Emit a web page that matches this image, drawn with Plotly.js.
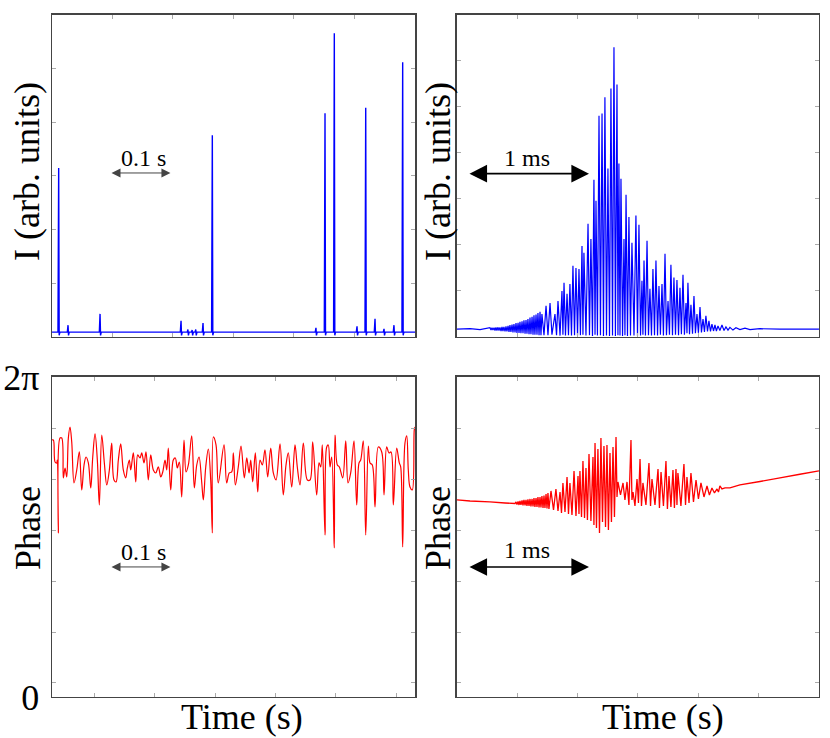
<!DOCTYPE html>
<html>
<head>
<meta charset="utf-8">
<script src="https://cdn.plot.ly/plotly-3.0.1.min.js"></script>
<style>
  html, body { margin: 0; padding: 0; background: #fff; }
  #chart { width: 830px; height: 738px; }
</style>
</head>
<body>
<div id="chart"></div>
<script>
// ---- data ----

// top left: intensity spikes over 0.6 s (arb. units)
var spikeT = [0.0110, 0.0265, 0.0795, 0.2136, 0.2250, 0.2320, 0.2380, 0.2500, 0.2654,
              0.4370, 0.4520, 0.4674, 0.5050, 0.5194, 0.5348, 0.5497, 0.5662, 0.5806];
var spikeH = [3.15, 0.22, 0.43, 0.30, 0.14, 0.13, 0.14, 0.26, 3.76,
              0.17, 4.17, 5.66, 0.20, 4.27, 0.34, 0.15, 0.22, 5.12];
var baseI = 0.09;   // baseline level
var dipI = 0.03;    // small undershoot right after each spike
var tEnd = 0.601;

// top right: one burst, time in ms
var trT = [
  0.000, 0.108, 0.191,
  0.273, 0.282, 0.290, 0.298, 0.307, 0.315, 0.323, 0.331, 0.340, 0.348,
  0.356, 0.365, 0.373, 0.381, 0.389, 0.398, 0.406, 0.414, 0.423, 0.431,
  0.439, 0.447, 0.456, 0.464, 0.472, 0.481, 0.489, 0.497, 0.506, 0.514,
  0.522, 0.530, 0.539, 0.547, 0.555, 0.564, 0.572, 0.580, 0.588, 0.597,
  0.605, 0.613, 0.622, 0.630, 0.638, 0.646, 0.655, 0.663, 0.671, 0.680,
  0.688, 0.696,
  0.704, 0.721, 0.738, 0.754, 0.771, 0.787, 0.812, 0.825, 0.837, 0.854,
  0.870, 0.878, 0.887, 0.899, 0.912, 0.924, 0.936, 0.949, 0.961, 0.974,
  0.986, 0.999, 1.011, 1.023, 1.036, 1.044, 1.052, 1.069, 1.086, 1.098,
  1.110, 1.123, 1.135, 1.144, 1.152, 1.164, 1.177, 1.189, 1.202, 1.214,
  1.226, 1.239, 1.251, 1.264, 1.276, 1.289, 1.301, 1.313, 1.326, 1.334,
  1.342, 1.351, 1.359, 1.372, 1.384, 1.392, 1.401, 1.413, 1.425, 1.438,
  1.450, 1.467, 1.483, 1.496, 1.508, 1.521, 1.533, 1.541, 1.550, 1.562,
  1.575, 1.587, 1.599, 1.612, 1.624, 1.637, 1.649, 1.662, 1.674, 1.686,
  1.699, 1.711, 1.724, 1.736, 1.749, 1.761, 1.773, 1.786, 1.798, 1.811,
  1.823, 1.836, 1.848, 1.860, 1.873, 1.885, 1.898, 1.906, 1.914, 1.927,
  1.939, 1.952, 1.964, 1.976, 1.989, 2.001, 2.014, 2.026, 2.039, 2.051,
  2.063, 2.076, 2.088, 2.101, 2.113, 2.126, 2.138, 2.150, 2.163, 2.179,
  2.196, 2.213, 2.229, 2.246, 2.262, 2.287, 2.312, 2.345, 2.387, 2.428,
  2.511, 2.677, 2.842, 3.000
];
var trI = [
  0.17, 0.18, 0.16,
  0.20, 0.15, 0.20, 0.15, 0.20, 0.14, 0.21, 0.14, 0.21, 0.14,
  0.21, 0.13, 0.22, 0.13, 0.22, 0.12, 0.23, 0.12, 0.24, 0.11,
  0.26, 0.11, 0.27, 0.10, 0.28, 0.10, 0.30, 0.09, 0.31, 0.09,
  0.33, 0.08, 0.34, 0.08, 0.36, 0.07, 0.37, 0.07, 0.39, 0.06,
  0.42, 0.06, 0.44, 0.05, 0.47, 0.05, 0.49, 0.05, 0.52, 0.04,
  0.55, 0.04,
  0.50, 0.04, 0.68, 0.04, 0.74, 0.05, 0.50, 0.04, 0.78, 0.03,
  1.00, 0.05, 1.18, 0.03, 0.94, 0.04, 1.15, 0.03, 1.55, 0.04,
  1.50, 0.03, 1.48, 0.04, 1.98, 0.05, 1.83, 0.03, 2.46, 0.04,
  2.13, 0.02, 3.42, 0.05, 2.96, 0.03, 4.81, 0.04, 4.86, 0.02,
  5.21, 0.03, 3.66, 0.02, 5.40, 0.03, 6.30, 0.02, 5.49, 0.04,
  3.77, 0.03, 3.44, 0.02, 2.13, 0.04, 3.09, 0.02, 2.61, 0.03,
  2.05, 0.03, 2.64, 0.02, 2.44, 0.03, 1.22, 0.05, 1.66, 0.03,
  2.09, 0.04, 1.05, 0.03, 1.48, 0.04, 1.66, 0.03, 1.11, 0.05,
  1.15, 0.03, 1.81, 0.04, 0.78, 0.05, 1.57, 0.04, 1.29, 0.05,
  1.24, 0.04, 1.07, 0.06, 1.35, 0.05, 0.74, 0.08, 1.18, 0.06,
  0.70, 0.07, 0.89, 0.08, 0.50, 0.09, 0.65, 0.10, 0.39, 0.11,
  0.46, 0.12, 0.35, 0.12, 0.28, 0.13, 0.26, 0.13, 0.24, 0.14,
  0.26, 0.14, 0.22, 0.15, 0.21, 0.15, 0.20, 0.16, 0.19, 0.16,
  0.18, 0.17, 0.17, 0.17
];

// bottom left: phase over 0.6 s (rad)
var blT = [
  0.0000, 0.0022, 0.0050, 0.0078, 0.0088, 0.0104, 0.0132, 0.0161, 0.0187, 0.0215,
  0.0243, 0.0270, 0.0298, 0.0326, 0.0364, 0.0409, 0.0452, 0.0492, 0.0530, 0.0563,
  0.0601, 0.0641, 0.0674, 0.0712, 0.0750, 0.0783, 0.0823, 0.0866, 0.0906, 0.0949,
  0.0988, 0.1026, 0.1060, 0.1098, 0.1137, 0.1180, 0.1220, 0.1247, 0.1280, 0.1303,
  0.1346, 0.1386, 0.1419, 0.1457, 0.1485, 0.1523, 0.1556, 0.1594, 0.1634, 0.1677,
  0.1717, 0.1760, 0.1800, 0.1833, 0.1871, 0.1899, 0.1925, 0.1965, 0.2008, 0.2041,
  0.2075, 0.2108, 0.2147, 0.2185, 0.2219, 0.2257, 0.2313, 0.2356, 0.2396, 0.2434,
  0.2478, 0.2505, 0.2545, 0.2588, 0.2627, 0.2654, 0.2671, 0.2715, 0.2753, 0.2848,
  0.2892, 0.2935, 0.2975, 0.3002, 0.3035, 0.3084, 0.3129, 0.3184, 0.3224, 0.3262,
  0.3290, 0.3323, 0.3366, 0.3406, 0.3444, 0.3482, 0.3526, 0.3571, 0.3621, 0.3664,
  0.3709, 0.3775, 0.3829, 0.3874, 0.3912, 0.3969, 0.4023, 0.4061, 0.4106, 0.4161,
  0.4227, 0.4272, 0.4316, 0.4382, 0.4421, 0.4449, 0.4475, 0.4520, 0.4548, 0.4574,
  0.4603, 0.4631, 0.4674, 0.4685, 0.4724, 0.4757, 0.4813, 0.4863, 0.4901, 0.4945,
  0.5000, 0.5045, 0.5083, 0.5111, 0.5154, 0.5194, 0.5237, 0.5265, 0.5303, 0.5348,
  0.5402, 0.5459, 0.5497, 0.5541, 0.5579, 0.5613, 0.5651, 0.5707, 0.5750, 0.5773,
  0.5806, 0.5844, 0.5873, 0.5899, 0.5927, 0.5965, 0.5998, 0.6010
];
var blP = [
  5.046, 5.046, 4.614, 4.595, 4.653, 3.220, 5.085, 5.085, 4.300, 4.496,
  4.320, 5.085, 5.301, 5.007, 4.202, 4.457, 4.811, 4.064, 4.555, 4.712,
  4.595, 4.104, 4.712, 5.164, 4.653, 3.770, 5.144, 4.595, 4.163, 4.457,
  4.987, 4.261, 4.222, 4.653, 4.968, 4.457, 4.300, 4.496, 4.653, 4.457,
  4.791, 4.222, 4.752, 4.693, 4.791, 4.595, 4.811, 4.261, 4.752, 4.457,
  4.398, 4.516, 4.320, 4.418, 4.653, 4.457, 4.889, 4.064, 4.653, 4.693,
  4.496, 4.614, 3.927, 5.046, 4.418, 4.555, 5.125, 4.104, 4.555, 4.712,
  4.222, 3.868, 4.516, 4.869, 4.261, 3.220, 5.105, 4.948, 4.202, 4.948,
  4.202, 4.398, 4.418, 4.791, 4.163, 4.516, 4.928, 4.300, 4.693, 4.398,
  4.653, 4.222, 4.791, 4.025, 4.653, 4.555, 4.850, 4.320, 4.889, 4.398,
  4.261, 4.968, 3.966, 4.555, 4.791, 4.123, 4.948, 4.516, 4.163, 4.987,
  4.261, 4.261, 5.007, 3.966, 4.595, 4.516, 4.948, 3.181, 4.909, 4.948,
  4.516, 4.712, 2.926, 5.144, 4.555, 4.516, 4.300, 5.027, 4.202, 4.398,
  5.027, 3.770, 4.595, 4.653, 5.027, 3.181, 4.928, 4.595, 4.555, 3.731,
  4.909, 4.811, 3.966, 4.909, 4.791, 4.811, 3.770, 4.889, 4.595, 4.516,
  2.945, 4.987, 5.125, 4.457, 4.123, 4.064, 5.243, 5.301
];

// bottom right: phase during the burst, time in ms
var brT = [
  0.000, 0.108, 0.273, 0.398, 0.481,
  0.489, 0.497, 0.506, 0.514, 0.522, 0.530, 0.539, 0.547, 0.555, 0.564,
  0.572, 0.580, 0.588, 0.597, 0.605, 0.613, 0.622, 0.630, 0.638, 0.646,
  0.655, 0.663, 0.671, 0.680, 0.688, 0.696, 0.704, 0.713, 0.721, 0.729,
  0.738, 0.746, 0.754, 0.762,
  0.779, 0.800, 0.820, 0.837, 0.854, 0.866, 0.878, 0.895, 0.912,
  0.924, 0.936, 0.953, 0.970, 0.986, 1.003, 1.011, 1.019, 1.032, 1.044,
  1.057, 1.069, 1.081, 1.094, 1.110, 1.127, 1.135, 1.144, 1.156, 1.168,
  1.181, 1.193, 1.206, 1.218, 1.231, 1.243, 1.255, 1.268, 1.280, 1.293,
  1.305, 1.318, 1.326, 1.334, 1.355, 1.376, 1.392, 1.409, 1.425, 1.442,
  1.450, 1.459, 1.475, 1.492, 1.504, 1.517, 1.529, 1.541, 1.566, 1.591,
  1.604, 1.616, 1.641, 1.666, 1.678, 1.691, 1.711, 1.732, 1.744, 1.757,
  1.773, 1.790, 1.802, 1.815, 1.823, 1.831, 1.856, 1.881, 1.894, 1.906,
  1.923, 1.939, 1.960, 1.981, 2.001, 2.022, 2.047, 2.072, 2.092, 2.113,
  2.134, 2.155, 2.167, 2.179, 2.196, 2.221, 2.262, 2.345, 2.511, 2.677,
  2.842, 3.000
];
var brP = [
  3.868, 3.848, 3.829, 3.809, 3.799,
  3.829, 3.780, 3.839, 3.770, 3.848, 3.770, 3.858, 3.760, 3.868, 3.760,
  3.868, 3.750, 3.878, 3.750, 3.888, 3.740, 3.888, 3.740, 3.907, 3.731,
  3.907, 3.731, 3.927, 3.721, 3.927, 3.721, 3.947, 3.711, 3.957, 3.711,
  3.986, 3.701, 4.006, 3.691,
  4.045, 3.672, 4.084, 3.652, 4.025, 3.613, 4.202, 3.632, 4.320,
  3.593, 4.202, 3.574, 4.438, 3.554, 4.339, 3.593, 4.438, 3.534, 4.634,
  3.515, 4.496, 3.475, 4.771, 3.456, 4.712, 3.377, 4.987, 3.318, 4.869,
  3.220, 5.085, 3.436, 4.928, 3.338, 4.948, 3.279, 4.791, 3.436, 4.909,
  3.534, 5.105, 3.927, 4.222, 3.966, 4.202, 3.868, 4.222, 3.770, 5.046,
  3.868, 4.025, 3.750, 4.280, 3.809, 4.673, 3.750, 4.202, 3.770, 4.595,
  3.750, 4.280, 3.770, 4.477, 3.711, 4.418, 3.750, 4.634, 3.691, 4.339,
  3.731, 4.457, 3.711, 4.477, 3.770, 4.398, 3.750, 4.575, 3.770, 4.320,
  3.809, 4.398, 3.829, 4.261, 3.888, 4.202, 3.927, 4.143, 3.966, 4.104,
  4.006, 4.084, 4.025, 4.143, 4.084, 4.104, 4.104, 4.163, 4.231, 4.300,
  4.373, 4.438
];

// phase axis: inner tick positions and the two labelled ends
var phaseTicks = [0, 0.275, 1.275, 2.275, 3.275, 4.275, 5.275, 6.2832];
var phaseLabels = ['0', '', '', '', '', '', '', '2\u03c0'];

// ---- build the spike line for the top left panel ----
var tlT = [0], tlI = [baseI];
spikeT.forEach(function (t, i) {
  tlT.push(t - 0.0012, t, t + 0.0008, t + 0.002);
  tlI.push(baseI, spikeH[i], dipI, baseI);
});
tlT.push(tEnd);
tlI.push(baseI);

var serif = 'Liberation Serif';

var traces = [
  { x: tlT, y: tlI, xaxis: 'x', yaxis: 'y', mode: 'lines',
    line: { color: '#0000ff', width: 1.4, simplify: false } },
  { x: trT, y: trI, xaxis: 'x2', yaxis: 'y2', mode: 'lines',
    line: { color: '#0000ff', width: 1.2, simplify: false } },
  { x: blT, y: blP, xaxis: 'x3', yaxis: 'y3', mode: 'lines',
    line: { color: '#ff0000', width: 1.2, shape: 'spline', smoothing: 1, simplify: false } },
  { x: brT, y: brP, xaxis: 'x4', yaxis: 'y4', mode: 'lines',
    line: { color: '#ff0000', width: 1.3, simplify: false } }
];

// shared frame style for every axis
function frame(extra) {
  var ax = {
    showline: true, linecolor: '#444', linewidth: 1.5, mirror: 'ticks',
    ticks: 'inside', ticklen: 4, tickwidth: 1, tickcolor: '#aaa',
    showgrid: false, zeroline: false, showticklabels: false, fixedrange: true
  };
  for (var k in extra) ax[k] = extra[k];
  return ax;
}

var leftX = [0.0627, 0.5], rightX = [0.5506, 0.9867];
var topY = [0.5434, 0.9797], botY = [0.0556, 0.4892];

var phaseAxis = {
  range: [0, 6.2832], tickmode: 'array', tickvals: phaseTicks
};

var big = { family: serif, size: 36, color: '#000' };
var small = { family: serif, size: 24, color: '#000' };

var layout = {
  width: 830, height: 738,
  margin: { l: 0, r: 0, t: 0, b: 0 },
  paper_bgcolor: '#fff', plot_bgcolor: '#fff',
  showlegend: false,
  font: { family: serif, color: '#000' },
  xaxis: frame({ domain: leftX, range: [0, tEnd], anchor: 'y', tick0: 0, dtick: 0.1 }),
  yaxis: frame({ domain: topY, range: [0, 6], anchor: 'x', dtick: 1 }),
  xaxis2: frame({ domain: rightX, range: [0, 3], anchor: 'y2', tick0: 0, dtick: 0.5 }),
  yaxis2: frame({ domain: topY, range: [0, 7], anchor: 'x2', dtick: 1 }),
  xaxis3: frame({ domain: leftX, range: [0, tEnd], anchor: 'y3', tick0: 0.07, dtick: 0.1 }),
  yaxis3: frame(Object.assign({ domain: botY, anchor: 'x3', showticklabels: true,
    ticktext: phaseLabels, tickfont: big, ticklabelstandoff: 4 }, phaseAxis)),
  xaxis4: frame({ domain: rightX, range: [0, 3], anchor: 'y4', tick0: 0.5, dtick: 0.5 }),
  yaxis4: frame(Object.assign({ domain: botY, anchor: 'x4' }, phaseAxis)),
  annotations: [
    // axis titles
    { xref: 'paper', yref: 'paper', x: 0.0325, y: 0.7683, text: 'I (arb. units)', textangle: -90,
      showarrow: false, xanchor: 'center', yanchor: 'middle', font: big },
    { xref: 'paper', yref: 'paper', x: 0.5277, y: 0.7683, text: 'I (arb. units)', textangle: -90,
      showarrow: false, xanchor: 'center', yanchor: 'middle', font: big },
    { xref: 'paper', yref: 'paper', x: 0.0337, y: 0.2846, text: 'Phase', textangle: -90,
      showarrow: false, xanchor: 'center', yanchor: 'middle', font: big },
    { xref: 'paper', yref: 'paper', x: 0.5277, y: 0.2846, text: 'Phase', textangle: -90,
      showarrow: false, xanchor: 'center', yanchor: 'middle', font: big },
    { xref: 'paper', yref: 'paper', x: 0.2916, y: 0.0285, text: 'Time (s)',
      showarrow: false, xanchor: 'center', yanchor: 'middle', font: big },
    { xref: 'paper', yref: 'paper', x: 0.7988, y: 0.0285, text: 'Time (s)',
      showarrow: false, xanchor: 'center', yanchor: 'middle', font: big },

    // scale bars: 0.1 s on the left, 1 ms on the right
    { xref: 'x', yref: 'y', axref: 'x', ayref: 'y', x: 0.196, y: 3.056, ax: 0.096, ay: 3.056,
      text: '', showarrow: true, arrowside: 'end+start', arrowhead: 2, startarrowhead: 2,
      arrowsize: 1.8, startarrowsize: 1.8, arrowwidth: 1, arrowcolor: '#444' },
    { xref: 'x', yref: 'y', x: 0.151, y: 3.335, text: '0.1 s', showarrow: false, font: small },
    { xref: 'x3', yref: 'y3', axref: 'x3', ayref: 'y3', x: 0.196, y: 2.553, ax: 0.096, ay: 2.553,
      text: '', showarrow: true, arrowside: 'end+start', arrowhead: 2, startarrowhead: 2,
      arrowsize: 1.8, startarrowsize: 1.8, arrowwidth: 1, arrowcolor: '#444' },
    { xref: 'x3', yref: 'y3', x: 0.151, y: 2.847, text: '0.1 s', showarrow: false, font: small },
    { xref: 'x2', yref: 'y2', axref: 'x2', ayref: 'y2', x: 1.094, y: 3.551, ax: 0.091, ay: 3.551,
      text: '', showarrow: true, arrowside: 'end+start', arrowhead: 2, startarrowhead: 2,
      arrowsize: 2.2, startarrowsize: 2.2, arrowwidth: 1.6, arrowcolor: '#000' },
    { xref: 'x2', yref: 'y2', x: 0.580, y: 3.90, text: '1 ms', showarrow: false, font: small },
    { xref: 'x4', yref: 'y4', axref: 'x4', ayref: 'y4', x: 1.094, y: 2.553, ax: 0.091, ay: 2.553,
      text: '', showarrow: true, arrowside: 'end+start', arrowhead: 2, startarrowhead: 2,
      arrowsize: 2.2, startarrowsize: 2.2, arrowwidth: 1.6, arrowcolor: '#000' },
    { xref: 'x4', yref: 'y4', x: 0.580, y: 2.886, text: '1 ms', showarrow: false, font: small }
  ]
};

Plotly.newPlot('chart', traces, layout, { displayModeBar: false, staticPlot: true });
</script>
</body>
</html>
